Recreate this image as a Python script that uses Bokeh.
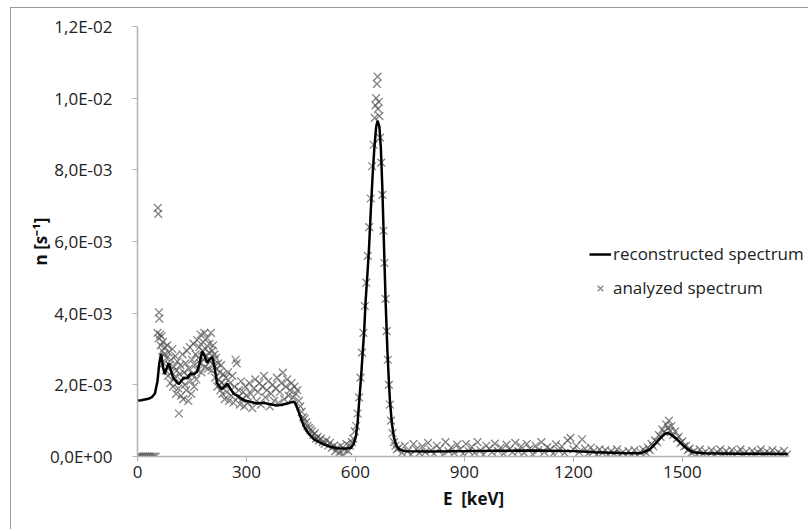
from bokeh.plotting import figure
from bokeh.models import Range1d, FixedTicker, CustomJSTickFormatter, Legend, LegendItem
from bokeh.embed import file_html
from bokeh.resources import INLINE

FONT = "Open Sans"

# ---------------- data ----------------
# reconstructed spectrum (black line): energy [keV], rate [1e-3 s^-1]
E_line = [0, 10, 20, 30, 40, 48, 55, 60, 65, 70, 75, 80, 86, 92, 98, 106, 114, 121, 128, 136,
          146, 155, 164, 170, 178, 185, 192, 199, 206, 212, 219, 226, 233, 240, 247, 255, 265,
          275, 285, 295, 310, 329, 345, 366, 384, 400, 412, 425, 432, 440, 448, 458, 470, 486,
          500, 513, 530, 550, 570, 587, 595, 601, 606, 610, 615, 619, 624, 628, 633, 637, 642,
          647, 652, 657, 661, 666, 670, 674, 679, 683, 688, 692, 695, 700, 706, 713, 720, 735,
          800, 900, 1000, 1100, 1200, 1260, 1330, 1385, 1410, 1425, 1440, 1452, 1460, 1470,
          1485, 1500, 1515, 1530, 1560, 1650, 1790]
n_line_e3 = [1.56, 1.57, 1.59, 1.61, 1.66, 1.76, 2.10, 2.60, 2.87, 2.50, 2.30, 2.45, 2.60, 2.40,
             2.20, 2.10, 2.02, 2.12, 2.20, 2.18, 2.31, 2.30, 2.36, 2.55, 2.93, 2.80, 2.62, 2.72,
             2.78, 2.50, 2.05, 1.95, 1.88, 1.95, 2.03, 1.90, 1.75, 1.70, 1.62, 1.56, 1.53, 1.48,
             1.50, 1.46, 1.42, 1.45, 1.48, 1.52, 1.53, 1.35, 1.12, 0.85, 0.65, 0.48, 0.40, 0.34,
             0.28, 0.23, 0.22, 0.24, 0.35, 0.55, 0.95, 1.50, 2.15, 2.76, 3.50, 4.34, 5.10, 5.74,
             6.80, 7.80, 8.60, 9.20, 9.37, 9.20, 8.60, 7.50, 5.74, 4.34, 2.95, 2.10, 1.55, 0.95,
             0.53, 0.30, 0.20, 0.15, 0.14, 0.15, 0.16, 0.17, 0.15, 0.12, 0.10, 0.09, 0.20, 0.35,
             0.52, 0.63, 0.66, 0.60, 0.48, 0.33, 0.20, 0.12, 0.09, 0.08, 0.07]

# analyzed spectrum (grey crosses): energy [keV], rate [1e-3 s^-1]
E_pts = [0, 5, 10, 15, 20, 25, 30, 35, 40, 45, 50,
         56, 57, 59, 60, 55, 58, 62, 64, 66, 68, 70, 72, 74, 76, 78, 80, 82, 84, 86, 88, 90,
         92, 94, 96, 98, 100, 102, 104, 106, 108, 110, 112, 114, 116, 118, 120, 122, 124, 126,
         128, 130, 132, 134, 136, 138, 140, 142, 144, 146, 148, 150, 152, 154, 156, 158, 160,
         162, 164, 166, 168, 170, 172, 174, 176, 178, 180, 182, 184, 186, 188, 190, 192, 194,
         196, 198, 200, 202, 204, 206, 208, 210, 212, 214, 216, 218, 220, 222, 224, 226, 228,
         230, 232, 234, 236, 238, 240, 243, 246, 249, 252, 255, 258, 261, 264, 267, 270, 273,
         276, 279, 282, 285, 288, 291, 294, 297, 300, 304, 308, 312, 316, 320, 324, 328, 332,
         336, 340, 344, 348, 352, 356, 360, 364, 368, 372, 376, 380, 384, 388, 392, 396, 400,
         404, 408, 412, 416, 420, 424, 428, 432, 436, 440, 444, 448, 452, 456, 460, 464, 468,
         472, 476, 480, 484, 488, 492, 496, 500, 505, 510, 515, 520, 525, 530, 535, 540, 545,
         550, 555, 560, 565, 570, 575, 580, 585, 590, 594, 598, 602, 606, 610, 614, 618, 622,
         626, 630, 634, 638, 642, 646, 650, 653, 655, 657, 659, 661, 662, 664, 666, 668, 671,
         674, 677, 680, 683, 686, 689, 692, 695, 698, 702, 706, 710, 714,
         720, 728, 736, 744, 752, 760, 768, 776, 784, 792, 800, 808, 816, 824, 832, 840, 848,
         856, 864, 872, 880, 888, 896, 904, 912, 920, 928, 936, 944, 952, 960, 968, 976, 984,
         992, 1000, 1008, 1016, 1024, 1032, 1040, 1048, 1056, 1064, 1072, 1080, 1088, 1096,
         1104, 1112, 1120, 1128, 1136, 1144, 1152, 1160, 1168, 1176, 1184, 1192, 1200, 1208,
         1216, 1224, 1232, 1240, 1248, 1256, 1264, 1272, 1280, 1288, 1296, 1304, 1312, 1320,
         1328, 1336, 1344, 1352, 1360, 1368, 1376, 1384, 1392, 1400,
         1405, 1410, 1415, 1420, 1425, 1430, 1435, 1440, 1445, 1450, 1455, 1460, 1463, 1466,
         1470, 1475, 1480, 1485, 1490, 1495, 1500, 1505, 1510, 1515, 1520, 1525,
         1532, 1540, 1548, 1556, 1564, 1572, 1580, 1588, 1596, 1604, 1612, 1620, 1628, 1636,
         1644, 1652, 1660, 1668, 1676, 1684, 1692, 1700, 1708, 1716, 1724, 1732, 1740, 1748,
         1756, 1764, 1772, 1780, 1788]
n_pts_e3 = [0, 0, 0, 0, 0, 0, 0, 0, 0, 0, 0,
            6.94, 6.77, 4.02, 3.85, 3.45, 3.30, 3.40, 3.10, 3.35, 2.95, 3.20, 2.60, 2.85, 3.05,
            2.40, 2.75, 3.10, 2.25, 2.90, 2.55, 2.05, 2.70, 2.35, 3.00, 1.95, 2.50, 2.20, 2.80,
            1.75, 2.40, 2.65, 1.90, 1.20, 2.30, 2.55, 1.70, 2.10, 2.85, 1.60, 2.35, 2.00, 2.60,
            1.85, 2.95, 2.25, 1.55, 2.45, 3.05, 2.10, 1.75, 2.70, 2.30, 3.15, 1.95, 2.55, 2.85,
            2.15, 3.25, 2.40, 2.75, 3.05, 2.60, 3.40, 2.35, 2.95, 3.20, 2.70, 3.45, 2.50, 3.00,
            2.80, 3.30, 2.45, 2.90, 3.15, 2.65, 3.45, 2.40, 2.95, 3.10, 2.55, 2.85, 2.20, 2.75,
            2.45, 1.95, 2.60, 2.15, 2.35, 1.85, 2.55, 2.05, 1.75, 2.30, 2.00, 1.60, 2.20, 1.80,
            2.35, 1.55, 2.05, 1.70, 2.25, 1.50, 1.95, 2.70, 2.60, 1.65, 1.85, 1.45, 2.10, 1.60,
            1.80, 1.40, 1.95, 1.70, 1.50, 2.05, 1.75, 1.35, 1.90, 2.15, 1.55, 1.80, 2.05, 1.45,
            1.95, 2.25, 1.65, 1.85, 2.10, 1.40, 1.75, 2.00, 1.55, 1.90, 2.20, 1.50, 1.80, 2.05,
            2.34, 1.60, 1.95, 2.15, 1.70, 1.85, 2.05, 1.65, 1.95, 1.75, 1.85, 1.55, 1.40, 1.25,
            1.10, 1.05, 0.95, 0.85, 0.80, 0.75, 0.70, 0.60, 0.65, 0.50, 0.55, 0.45, 0.50, 0.40,
            0.35, 0.45, 0.30, 0.38, 0.25, 0.30, 0.15, 0.25, 0.10, 0.30, 0.05, 0.20, 0.35, 0.15,
            0.30, 0.40, 0.50, 0.70, 0.85, 1.20, 1.65, 2.20, 2.90, 3.45, 4.20, 4.85, 5.60, 6.40,
            7.20, 8.10, 8.70, 9.45, 9.80, 10.00, 10.40, 10.60, 9.70, 9.90, 9.50, 8.90, 8.20,
            7.30, 6.30, 5.40, 4.40, 3.50, 2.70, 2.00, 1.45, 1.00, 0.65, 0.40, 0.30, 0.20,
            0.25, 0.10, 0.30, 0.15, 0.05, 0.35, 0.20, 0.10, 0.28, 0.12, 0.38, 0.18, 0.08, 0.30,
            0.22, 0.05, 0.40, 0.15, 0.25, 0.10, 0.33, 0.20, 0.08, 0.35, 0.15, 0.27, 0.10, 0.40,
            0.18, 0.05, 0.30, 0.22, 0.12, 0.36, 0.16, 0.25, 0.08, 0.33, 0.20, 0.12, 0.38, 0.15,
            0.28, 0.10, 0.35, 0.22, 0.06, 0.30, 0.18, 0.40, 0.12, 0.26, 0.20, 0.08, 0.34, 0.16,
            0.28, 0.10, 0.45, 0.52, 0.20, 0.30, 0.12, 0.48, 0.22, 0.08, 0.25, 0.15, 0.05, 0.20,
            0.10, 0.18, 0.04, 0.15, 0.08, 0.20, 0.05, 0.12, 0.02, 0.15, 0.06, 0.18, 0.04, 0.12,
            0.20, 0.10,
            0.25, 0.18, 0.35, 0.28, 0.45, 0.40, 0.60, 0.55, 0.75, 0.68, 0.90, 0.80, 1.00, 0.72,
            0.85, 0.60, 0.70, 0.50, 0.55, 0.38, 0.42, 0.28, 0.30, 0.18, 0.22, 0.10,
            0.15, 0.05, 0.20, 0.08, 0.14, 0.02, 0.18, 0.06, 0.12, 0.20, 0.04, 0.15, 0.08, 0.18,
            0.03, 0.12, 0.20, 0.06, 0.14, 0.02, 0.16, 0.08, 0.12, 0.20, 0.05, 0.14, 0.09, 0.18,
            0.03, 0.12, 0.07, 0.16, 0.05]

x_ticks = [0, 300, 600, 900, 1200, 1500]
y_ticks = [0, 0.002, 0.004, 0.006, 0.008, 0.010, 0.012]

n_line = [v * 1e-3 for v in n_line_e3]
n_pts = [v * 1e-3 for v in n_pts_e3]

# ---------------- figure ----------------
p = figure(width=798, height=522, output_backend="svg", toolbar_location=None,
           x_range=Range1d(0, 1850), y_range=Range1d(0, 0.012),
           min_border_left=126, min_border_right=0, min_border_top=18, min_border_bottom=74,
           background_fill_color="white", border_fill_color="white",
           styles={"border-left": "1px solid #9a9a9a", "border-top": "1px solid #9a9a9a",
                   "margin-left": "10px", "margin-top": "7px"})

p.xgrid.visible = False
p.ygrid.visible = False
p.outline_line_color = None

sc = p.scatter(E_pts, n_pts, marker="x", size=11, line_color="#505050", line_alpha=0.7,
               line_width=1.3)
ln = p.line(E_line, n_line, line_color="black", line_width=2.5)

for ax in (p.xaxis[0], p.yaxis[0]):
    ax.axis_line_color = "#b4b4b4"
    ax.axis_line_width = 1.5
    ax.major_tick_line_color = "#b4b4b4"
    ax.major_tick_line_width = 1
    ax.major_tick_out = 5
    ax.major_tick_in = 0
    ax.minor_tick_out = 0
    ax.minor_tick_in = 0
    ax.major_label_text_font = FONT
    ax.major_label_text_font_size = "17px"
    ax.major_label_text_color = "#222222"
    ax.axis_label_text_font = FONT
    ax.axis_label_text_font_size = "17px"
    ax.axis_label_text_font_style = "bold"
    ax.axis_label_text_color = "#111111"

p.xaxis.bounds = (0, 1792)
p.xaxis.ticker = FixedTicker(ticks=x_ticks)
p.yaxis.ticker = FixedTicker(ticks=y_ticks)
p.xaxis.major_label_standoff = 4
p.yaxis.major_label_standoff = 20
p.xaxis.axis_label = "E\u00a0\u00a0[keV]"
p.yaxis.axis_label = "n [s\u207b\u00b9]"
p.xaxis.axis_label_standoff = 6
p.yaxis.axis_label_standoff = -5

p.yaxis.formatter = CustomJSTickFormatter(code="""
    if (Math.abs(tick) < 1e-12) { return "0,0E+00"; }
    const parts = tick.toExponential(1).split('e');
    const ei = parseInt(parts[1]);
    const sign = ei < 0 ? '-' : '+';
    const ea = String(Math.abs(ei)).padStart(2, '0');
    return parts[0].replace('.', ',') + 'E' + sign + ea;
""")

legend = Legend(items=[LegendItem(label="reconstructed spectrum", renderers=[ln]),
                       LegendItem(label="analyzed spectrum", renderers=[sc])],
                location=(452, 157), border_line_color=None, background_fill_alpha=0,
                padding=0, margin=0, spacing=11, label_height=20, glyph_height=20,
                glyph_width=22, label_standoff=2, label_text_font=FONT,
                label_text_font_size="17px", label_text_color="#222222")
p.add_layout(legend)

open("out.html", "w").write(file_html(p, INLINE))
